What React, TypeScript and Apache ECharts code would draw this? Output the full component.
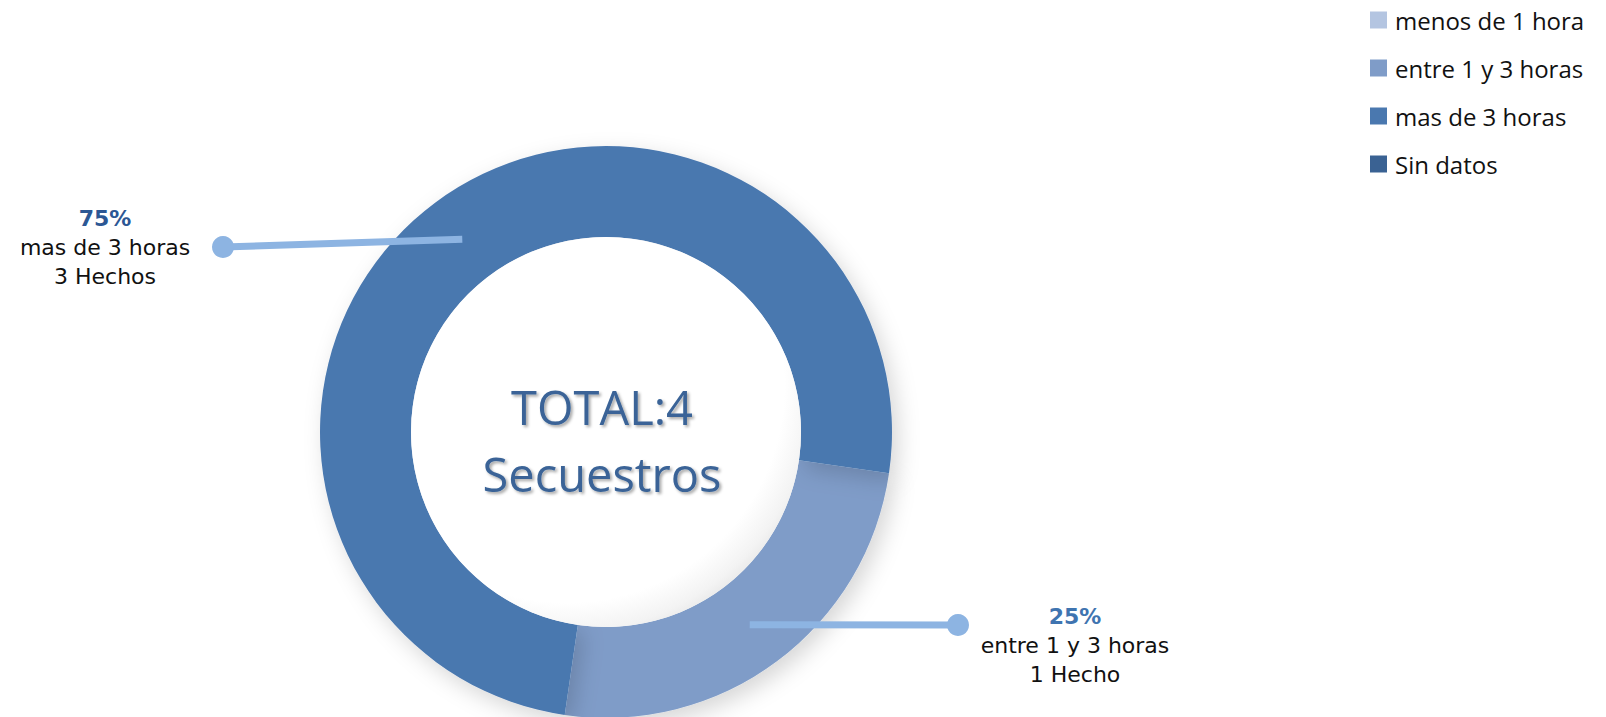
import React, { useEffect, useRef } from "react";
import * as echarts from "echarts";

const categories = ["menos de 1 hora", "entre 1 y 3 horas", "mas de 3 horas", "Sin datos"];
const values = [0, 1, 3, 0];
const sliceColors = ["#B4C5E1", "#7F9CC8", "#4A78AF", "#3A6293"];
const percentColors = ["#2F5A92", "#3F74B0", "#2C5794", "#2C5794"];
const totalLabel = "Secuestros";

const CX = 606;
const CY = 432;
const R_IN = 195;
const R_OUT = 286;
const START_ANGLE = -8.3;
// label block placement (layout only)
const dotPos: Record<number, [number, number]> = { 1: [958, 625], 2: [223, 247] };
const labelPos: Record<number, [number, number]> = { 1: [1075, 645], 2: [105, 247] };

export default function App() {
  const ref = useRef<HTMLDivElement>(null);
  useEffect(() => {
    if (!ref.current) return;
    const chart = echarts.init(ref.current, undefined, { renderer: "svg" });
    const total = values.reduce((a, b) => a + b, 0);
    const midAngle = (i: number) => {
      let cum = 0;
      for (let k = 0; k < i; k++) cum += values[k];
      return START_ANGLE - ((cum + values[i] / 2) / total) * 360;
    };
    const anchor = (i: number): [number, number] => {
      const a = (midAngle(i) * Math.PI) / 180;
      const rm = (R_IN + R_OUT) / 2;
      return [CX + rm * Math.cos(a), CY - rm * Math.sin(a)];
    };
    const leaders: any[] = [];
    values.forEach((v, i) => {
      if (v > 0 && dotPos[i]) {
        const a = anchor(i);
        const d = dotPos[i];
        leaders.push({
          type: "line",
          shape: { x1: a[0], y1: a[1], x2: d[0], y2: d[1] },
          style: { stroke: "#8DB4E2", lineWidth: 7 },
          silent: true,
          z: 10,
        });
        leaders.push({
          type: "circle",
          shape: { cx: d[0], cy: d[1], r: 11 },
          style: { fill: "#8DB4E2" },
          silent: true,
          z: 11,
        });
      }
    });
    const option: any = {
      animation: false,
      color: sliceColors,
      legend: {
        orient: "vertical",
        left: 1365,
        top: 3,
        icon: "rect",
        itemWidth: 17,
        itemHeight: 17,
        itemGap: 24,
        selectedMode: false,
        data: categories,
        textStyle: {
          fontFamily: "Open Sans",
          fontSize: 24,
          lineHeight: 24,
          color: "#111",
          padding: [0, 0, 0, 3],
        },
      },
      series: [
        {
          type: "pie",
          center: [CX, CY],
          radius: [R_IN, R_OUT],
          startAngle: START_ANGLE,
          clockwise: true,
          avoidLabelOverlap: false,
          itemStyle: {
            shadowBlur: 22,
            shadowOffsetX: 6,
            shadowOffsetY: 8,
            shadowColor: "rgba(0,0,0,0.16)",
          },
          emphasis: { disabled: true },
          data: categories.map((name, i) => ({
            name,
            value: values[i],
            label: { show: values[i] > 0 },
          })),
          label: {
            formatter: (p: any) => {
              const pct = Math.round((p.value / total) * 100);
              const hechos = p.value === 1 ? "Hecho" : "Hechos";
              return `{p${p.dataIndex}|${pct}%}\n{t|${p.name}}\n{t|${p.value} ${hechos}}`;
            },
            rich: {
              ...Object.fromEntries(
                percentColors.map((c, i) => [
                  `p${i}`,
                  { fontFamily: "DejaVu Sans", fontWeight: "bold", fontSize: 22, lineHeight: 30, color: c, align: "center" },
                ])
              ),
              t: { fontFamily: "DejaVu Sans", fontSize: 22, lineHeight: 29, color: "#111", align: "center" },
            },
          },
          labelLine: { show: false },
          labelLayout: (params: any) => {
            const i = params.dataIndex;
            if (!(values[i] > 0) || !labelPos[i]) return {};
            return {
              x: labelPos[i][0],
              y: labelPos[i][1],
              align: "center",
              verticalAlign: "middle",
            };
          },
        },
      ],
      graphic: [
        {
          type: "circle",
          shape: { cx: CX, cy: CY, r: R_IN },
          silent: true,
          z: 5,
          style: {
            fill: {
              type: "radial",
              x: 0.4,
              y: 0.38,
              r: 0.68,
              colorStops: [
                { offset: 0, color: "#ffffff" },
                { offset: 0.82, color: "#ffffff" },
                { offset: 0.93, color: "#f3f3f3" },
                { offset: 1, color: "#e4e4e4" },
              ],
            },
          },
        },
        {
          type: "text",
          x: CX - 4,
          y: CY + 8,
          z: 6,
          silent: true,
          style: {
            text: `TOTAL:${total}\n${totalLabel}`,
            fontFamily: "Open Sans",
            fontSize: 47,
            lineHeight: 67,
            fill: "#3A6497",
            align: "center",
            verticalAlign: "middle",
            textShadowColor: "rgba(0,0,0,0.35)",
            textShadowBlur: 3,
            textShadowOffsetX: 2,
            textShadowOffsetY: 2,
          },
        },
        ...leaders,
      ],
    };
    chart.setOption(option);
    return () => chart.dispose();
  }, []);
  return (
    <div
      ref={ref}
      style={{ position: "absolute", left: 0, top: 0, width: 1606, height: 717, background: "#fff" }}
    />
  );
}
